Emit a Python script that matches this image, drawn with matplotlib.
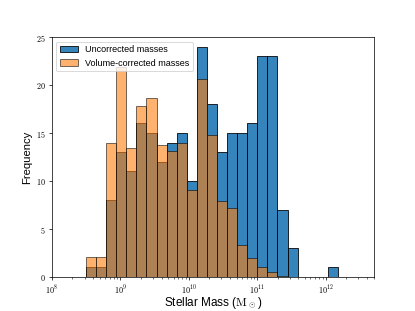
import numpy as np
import matplotlib
matplotlib.use("Agg")
import matplotlib.pyplot as plt
from matplotlib.ticker import FuncFormatter, LogLocator

# log10 bin edges (25 equal bins in log space)
log_min = 8.4976
log_max = 12.18
n_bins = 25

# counts per bin
uncorrected = [1, 1, 8, 13, 11, 16, 15, 12, 14, 15, 10, 24, 18, 13, 15,
               15, 16, 23, 23, 7, 3, 0, 0, 0, 1]
volume_corrected = [2.03, 2.03, 14.0, 21.85, 13.46, 17.83, 18.6, 13.78, 13.15,
                    14.0, 9.06, 20.59, 14.83, 7.94, 7.17, 3.29, 1.92, 0.98,
                    0.45, 0.05, 0, 0, 0, 0, 0]

plt.rcParams['font.family'] = ['Liberation Sans', 'DejaVu Sans']
plt.rcParams['mathtext.fontset'] = 'cm'

edges = np.logspace(log_min, log_max, n_bins + 1)
centers = np.sqrt(edges[:-1] * edges[1:])

fig, ax = plt.subplots(figsize=(6.4, 4.8), dpi=415 / 6.4)

ax.hist(centers, bins=edges, weights=uncorrected, color='tab:blue',
        alpha=0.9, edgecolor='black', linewidth=1.0, label='Uncorrected masses')
ax.hist(centers, bins=edges, weights=volume_corrected, color='tab:orange',
        alpha=0.6, edgecolor='black', linewidth=1.0, label='Volume-corrected masses')

ax.set_xscale('log')
ax.set_xlim(1e8, 5e12)
ax.set_ylim(0, 25)
ax.set_yticks([0, 5, 10, 15, 20, 25])
ax.yaxis.set_major_formatter(FuncFormatter(lambda v, p: r'$%d$' % v))
ax.xaxis.set_major_locator(LogLocator(base=10, numticks=10))
ax.xaxis.set_major_formatter(FuncFormatter(lambda v, p: r'$10^{%d}$' % round(np.log10(v))))
ax.tick_params(labelsize=9)

ax.set_xlabel(r'Stellar Mass ($\mathrm{M}_\odot$)', fontsize=13, labelpad=-1)
ax.set_ylabel('Frequency', fontsize=12.5)
ax.legend(loc='upper left', fontsize=10)

fig.savefig('out.png')
